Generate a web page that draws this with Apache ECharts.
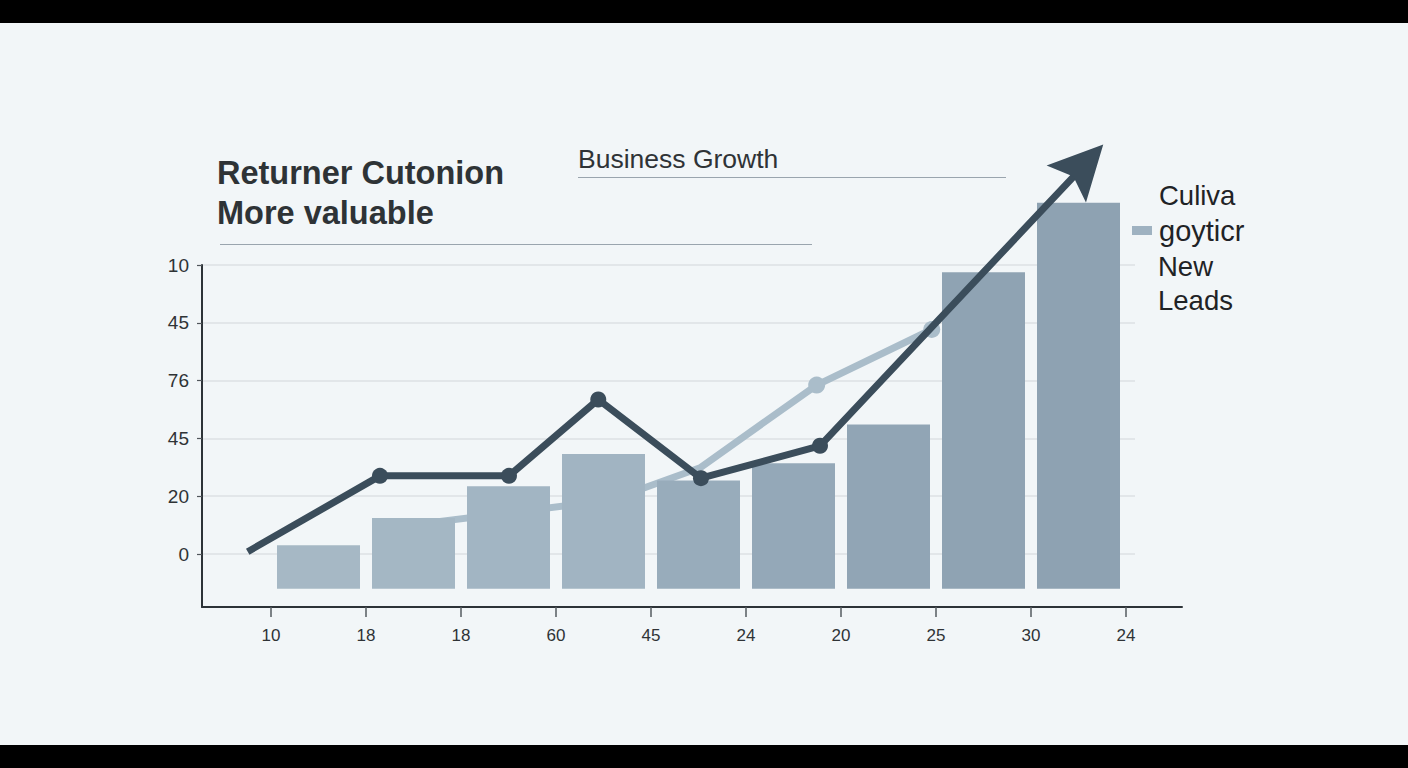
<!DOCTYPE html>
<html>
<head>
<meta charset="utf-8">
<style>
  html, body { margin: 0; padding: 0; background: #f2f6f8; }
  #chart { width: 1408px; height: 768px; }
</style>
<script src="https://cdn.jsdelivr.net/npm/echarts@6/dist/echarts.min.js"></script>
</head>
<body>
<div id="chart"></div>
<script>
// ---- data ----
const xLabels = ['10', '18', '18', '60', '45', '24', '20', '25', '30', '24'];
const yLabels = ['0', '20', '45', '76', '45', '10'];
const barX = [0.5, 1.5, 2.5, 3.5, 4.5, 5.5, 6.5, 7.5, 8.5];
const barValues = [0.75, 1.22, 1.77, 2.33, 1.87, 2.17, 2.84, 5.47, 6.67];
const barColors = ['#a6b8c5', '#a4b7c4', '#a2b5c3', '#a1b4c2', '#98acbb', '#94a8b8', '#91a5b5', '#8fa3b3', '#8ea2b2'];
// dark line: last point is the base of the arrow head
const darkX = [-0.245, 1.147, 2.505, 3.445, 4.526, 5.779, 8.463];
const darkY = [0.64, 1.95, 1.95, 3.27, 1.91, 2.47, 7.149];
const darkMarked = [false, true, true, true, true, true, false];
const arrowHead = [8.566, 7.335];
const lightX = [1.568, 3.568, 4.516, 5.744, 6.955];
const lightY = [1.12, 1.53, 2.09, 3.52, 4.48];
const lightMarked = [false, false, false, true, true];

const FONT = 'Liberation Sans, Arial, sans-serif';
const DARK = '#3b4d5b';
const LIGHT = '#aabdca';

const chart = echarts.init(document.getElementById('chart'), null, { renderer: 'svg' });

const option = {
  backgroundColor: '#f2f6f8',
  animation: false,
  textStyle: { fontFamily: FONT },
  title: [
    { text: 'Returner Cutonion\nMore valuable', left: 217, top: 153, padding: 0,
      textStyle: { fontFamily: FONT, fontSize: 32.5, fontWeight: 'bold', color: '#2e3336', lineHeight: 40 } },
    { text: 'Business Growth', left: 578, top: 144, padding: 0,
      textStyle: { fontFamily: FONT, fontSize: 26.5, fontWeight: 'normal', color: '#2f3336', lineHeight: 30 } },
    { text: 'Culiva', left: 1159, top: 178, padding: 0,
      textStyle: { fontFamily: FONT, fontSize: 27.5, fontWeight: 'normal', color: '#1f2326', lineHeight: 34 } },
    { text: 'New\nLeads', left: 1158, top: 249, padding: 0,
      textStyle: { fontFamily: FONT, fontSize: 27.5, fontWeight: 'normal', color: '#1f2326', lineHeight: 34 } }
  ],
  legend: {
    data: ['goyticr'], left: 1132, top: 216, padding: 0,
    icon: 'rect', itemWidth: 20, itemHeight: 9,
    textStyle: { fontFamily: FONT, fontSize: 29, color: '#1f2326', padding: [0, 0, 0, 2] }
  },
  graphic: [
    { type: 'rect', shape: { x: 0, y: 0, width: 1408, height: 23 }, style: { fill: '#000' }, silent: true },
    { type: 'rect', shape: { x: 0, y: 745, width: 1408, height: 23 }, style: { fill: '#000' }, silent: true },
    { type: 'line', shape: { x1: 220, y1: 244.5, x2: 812, y2: 244.5 }, style: { stroke: '#9aa5ae', lineWidth: 1.2 }, silent: true },
    { type: 'line', shape: { x1: 578, y1: 177.5, x2: 1006, y2: 177.5 }, style: { stroke: '#9aa5ae', lineWidth: 1.2 }, silent: true }
  ],
  grid: [
    { left: 202, top: 265, width: 933, height: 289 },   // 0: y labels + gridlines
    { left: 202, top: 265, width: 980, height: 342 },   // 1: axis lines
    { left: 271, top: 265, width: 855, height: 342 },   // 2: x ticks + labels
    { left: 202, top: 100, width: 980, height: 488.7 }  // 3: data
  ],
  xAxis: [
    { gridIndex: 0, type: 'value', min: 0, max: 1, show: false },
    { gridIndex: 1, type: 'value', min: 0, max: 1,
      axisLine: { show: true, onZero: false, lineStyle: { color: '#2d3338', width: 2 } },
      axisTick: { show: false }, axisLabel: { show: false }, splitLine: { show: false } },
    { gridIndex: 2, type: 'value', min: 0, max: 9, interval: 1,
      axisLine: { show: false },
      axisTick: { show: true, length: 10, lineStyle: { color: '#555b60', width: 1.5 } },
      axisLabel: { show: true, margin: 20, fontSize: 17, color: '#2f3336', fontFamily: FONT,
        showMinLabel: true, showMaxLabel: true,
        formatter: v => xLabels[Math.round(v)] },
      splitLine: { show: false } },
    { gridIndex: 3, type: 'value', min: -0.72632, max: 9.58947, show: false }
  ],
  yAxis: [
    { gridIndex: 0, type: 'value', min: 0, max: 5, interval: 1,
      axisLine: { show: false },
      axisTick: { show: true, length: 5, lineStyle: { color: '#50565b', width: 1.2 } },
      axisLabel: { show: true, margin: 13, fontSize: 19, color: '#2f3336', fontFamily: FONT,
        formatter: v => yLabels[Math.round(v)] },
      splitLine: { show: true, lineStyle: { color: '#dce1e5', width: 1.5 } } },
    { gridIndex: 1, type: 'value', min: 0, max: 1,
      axisLine: { show: true, onZero: false, lineStyle: { color: '#2d3338', width: 2 } },
      axisTick: { show: false }, axisLabel: { show: false }, splitLine: { show: false } },
    { gridIndex: 2, type: 'value', min: 0, max: 1, show: false },
    { gridIndex: 3, type: 'value', min: 0, max: 8.4463, show: false }
  ],
  series: [
    {
      name: 'light', type: 'line', xAxisIndex: 3, yAxisIndex: 3, z: 1,
      data: lightX.map((x, i) => lightMarked[i] ? [x, lightY[i]] : { value: [x, lightY[i]], symbol: 'none' }),
      symbol: 'circle', symbolSize: 17, showSymbol: true,
      lineStyle: { color: LIGHT, width: 7, cap: 'round' },
      itemStyle: { color: LIGHT, borderWidth: 0 }
    },
    {
      name: 'goyticr', type: 'bar', xAxisIndex: 3, yAxisIndex: 3, z: 2,
      barWidth: 83,
      itemStyle: { color: '#9fb2c1' },
      data: barX.map((x, i) => ({ value: [x, barValues[i]], itemStyle: { color: barColors[i] } }))
    },
    {
      name: 'dark', type: 'line', xAxisIndex: 3, yAxisIndex: 3, z: 4,
      data: darkX.map((x, i) => darkMarked[i] ? [x, darkY[i]] : { value: [x, darkY[i]], symbol: 'none' }),
      symbol: 'circle', symbolSize: 16, showSymbol: true,
      lineStyle: { color: DARK, width: 7 },
      itemStyle: { color: DARK, borderWidth: 0 }
    },
    {
      name: 'arrow', type: 'scatter', xAxisIndex: 3, yAxisIndex: 3, z: 5,
      symbol: 'path://M0,0 L1,2 L0,1.62 L-1,2 Z', symbolSize: [54, 54], symbolRotate: -43.2,
      itemStyle: { color: DARK, opacity: 1 },
      data: [arrowHead]
    }
  ]
};
chart.setOption(option);
</script>
</body>
</html>
